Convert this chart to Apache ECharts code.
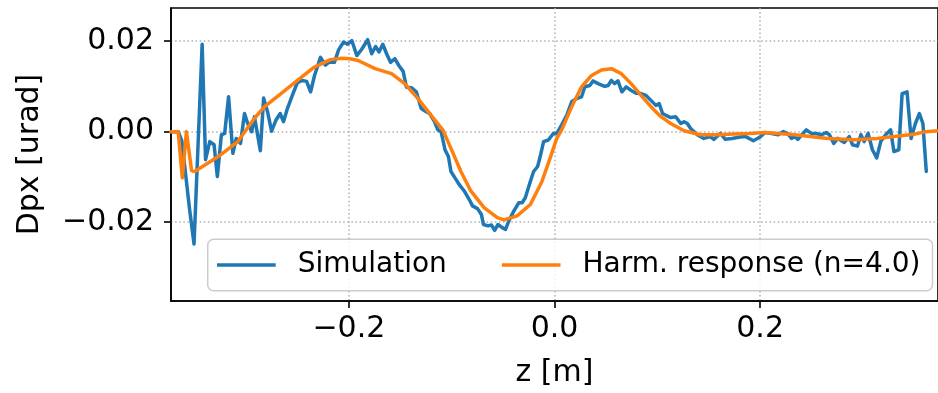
<!DOCTYPE html>
<html>
<head>
<meta charset="utf-8">
<script src="https://cdn.jsdelivr.net/npm/echarts@6/dist/echarts.min.js"></script>
<style>
html,body{margin:0;padding:0;background:#fff;}
#chart{width:938px;height:393px;}
</style>
</head>
<body>
<div id="chart"></div>
<script>
// ---- Data ----
const zSim = [-0.373,-0.3695,-0.366,-0.3625,-0.3585,-0.355,-0.3506,-0.3467,-0.3427,-0.3394,-0.3353,-0.3311,-0.3279,-0.324,-0.3208,-0.317,-0.3128,-0.3095,-0.3054,-0.3015,-0.2984,-0.2945,-0.2919,-0.2893,-0.2861,-0.2829,-0.2791,-0.2752,-0.271,-0.2668,-0.2636,-0.2598,-0.255,-0.2501,-0.2453,-0.2411,-0.2372,-0.2334,-0.2276,-0.2228,-0.2196,-0.2141,-0.2099,-0.2051,-0.2013,-0.1971,-0.1923,-0.1875,-0.1817,-0.1778,-0.174,-0.1707,-0.167,-0.1633,-0.1595,-0.1553,-0.1514,-0.1472,-0.144,-0.1392,-0.1344,-0.1296,-0.1248,-0.1215,-0.1167,-0.1135,-0.1103,-0.1065,-0.1032,-0.1007,-0.0968,-0.0926,-0.0878,-0.0829,-0.0797,-0.0749,-0.0711,-0.0691,-0.0646,-0.0614,-0.0582,-0.055,-0.0508,-0.0476,-0.0444,-0.0395,-0.0347,-0.0315,-0.0284,-0.0235,-0.0203,-0.0164,-0.0139,-0.0106,-0.0058,-0.001,0.0022,0.007,0.0119,0.0167,0.0215,0.0263,0.0295,0.0343,0.0376,0.0424,0.0488,0.0521,0.0553,0.0584,0.0617,0.0656,0.0697,0.0745,0.0794,0.0842,0.089,0.0938,0.0986,0.1018,0.1051,0.1083,0.1131,0.1179,0.1228,0.126,0.1292,0.1324,0.1389,0.1452,0.1517,0.1549,0.1613,0.1662,0.1726,0.1806,0.186,0.1934,0.2,0.2047,0.2112,0.2176,0.2224,0.2272,0.2305,0.2337,0.2368,0.2417,0.2449,0.2498,0.2546,0.2594,0.2642,0.2674,0.2716,0.2754,0.2819,0.2867,0.2899,0.2947,0.298,0.3012,0.305,0.3092,0.3134,0.3173,0.3221,0.3269,0.3301,0.3349,0.3381,0.3429,0.3468,0.351,0.3549,0.3583,0.3616];
const dpxSim = [0,0,0,-0.002,-0.010,-0.017,-0.0248,-0.003,0.0193,-0.0062,-0.0022,-0.0029,-0.0099,-0.0007,-0.0004,0.0077,-0.0048,-0.0015,-0.0026,0.0040,0.0018,0,0.0033,0,-0.0042,0.0074,0.0044,0.0001,0.0025,0.0040,0.0022,0.0051,0.0080,0.0108,0.0113,0.0111,0.0088,0.0124,0.0164,0.0147,0.0153,0.0153,0.0181,0.0198,0.0193,0.0201,0.0168,0.0182,0.0203,0.0172,0.0188,0.0176,0.0193,0.0172,0.0153,0.0161,0.0146,0.0133,0.0098,0.0097,0.0088,0.0051,0.0044,0.0040,0.0022,0.0004,0,-0.0040,-0.0055,-0.0088,-0.0102,-0.0117,-0.0131,-0.0150,-0.0164,-0.0170,-0.0183,-0.0205,-0.0208,-0.0206,-0.0218,-0.0205,-0.0212,-0.0216,-0.0197,-0.0175,-0.0157,-0.0157,-0.0146,-0.0110,-0.0088,-0.0077,-0.0055,-0.0022,-0.0018,-0.0004,-0.0004,0.0015,0.0036,0.0066,0.0073,0.0077,0.0099,0.0102,0.0112,0.0106,0.0100,0.0102,0.0113,0.0106,0.0112,0.0088,0.0099,0.0091,0.0085,0.0084,0.0080,0.0069,0.0058,0.0062,0.0040,0.0036,0.0031,0.0033,0.0018,0.0022,0.0018,0.0007,-0.0007,-0.0015,-0.0011,-0.0017,-0.0004,-0.0017,-0.0015,-0.0012,-0.0011,-0.0020,-0.0012,-0.0002,-0.0004,-0.0007,0,-0.0005,-0.0015,-0.0011,-0.0017,-0.0004,0.0004,-0.0004,-0.0004,-0.0007,-0.0002,-0.0007,-0.0026,-0.0015,-0.0024,-0.0011,-0.0029,-0.0032,-0.0007,-0.0022,-0.0004,-0.0040,-0.0058,-0.0022,-0.0007,0.0004,-0.0044,-0.0040,0.0084,0.0088,-0.0015,0.0018,0.0040,0.0018,-0.0088];

const zHarm = [-0.373,-0.366,-0.362,-0.358,-0.353,-0.350,-0.327,-0.308,-0.292,-0.282,-0.266,-0.250,-0.234,-0.218,-0.207,-0.199,-0.191,-0.1745,-0.1585,-0.1457,-0.1328,-0.120,-0.1087,-0.1007,-0.091,-0.0814,-0.0685,-0.0556,-0.0492,-0.0364,-0.0235,-0.0122,-0.0042,0.0022,0.007,0.0167,0.0263,0.036,0.0456,0.0553,0.065,0.0745,0.0842,0.0938,0.1035,0.113,0.126,0.142,0.158,0.174,0.190,0.2047,0.2337,0.2658,0.2915,0.314,0.330,0.3494,0.3607,0.373];
const dpxHarm = [0,0,-0.0102,0,-0.0086,-0.0088,-0.0055,-0.0022,0.0029,0.0055,0.0084,0.0113,0.0142,0.0159,0.0162,0.0161,0.0157,0.0139,0.0128,0.0106,0.0073,0.0036,0.0004,-0.0037,-0.0088,-0.0131,-0.0168,-0.0190,-0.0195,-0.0186,-0.0161,-0.0110,-0.0058,-0.0015,0.0004,0.0055,0.0099,0.0124,0.0136,0.0139,0.0128,0.0106,0.0080,0.0055,0.0033,0.0018,0.0002,-0.0007,-0.0007,-0.0005,-0.0004,-0.0002,-0.0007,-0.0015,-0.0018,-0.0015,-0.0011,-0.0006,0,0.0002];

const seriesNames = ['Simulation', 'Harm. response (n=4.0)'];
const xTickValues = [-0.2, 0.0, 0.2];
const yTickValues = [-0.02, 0.00, 0.02];
const xRange = [-0.373, 0.373];
const yRange = [-0.0374, 0.0273];

// ---- Chart ----
const FONT = 'DejaVu Sans';
const fmt = (v, d) => (v < -1e-12 ? '\u2212' : '') + Math.abs(v).toFixed(d);
const pairs = (xs, ys) => xs.map((x, i) => [x, ys[i]]);

const chart = echarts.init(document.getElementById('chart'), null, {renderer: 'canvas'});
const gridLine = {show: true, lineStyle: {color: '#b0b0b0', width: 1.5, type: [1.5, 2.6]}};

chart.setOption({
  animation: false,
  backgroundColor: '#ffffff',
  grid: {left: 171, right: -7, top: 8, bottom: 89.7, show: true, borderColor: '#000', borderWidth: 1.6, backgroundColor: 'transparent'},
  legend: {
    data: seriesNames,
    left: 207.7, top: 239.3,
    orient: 'horizontal',
    icon: 'rect',
    itemWidth: 58.7, itemHeight: 3.5,
    itemGap: 55,
    padding: [9.7, 12, 9.7, 9.3],
    backgroundColor: 'rgba(255,255,255,0.8)',
    borderColor: '#cccccc', borderWidth: 1.5, borderRadius: 6,
    textStyle: {fontFamily: FONT, fontSize: 28, color: '#000', lineHeight: 32, padding: [0, 0, 0, 17]}
  },
  xAxis: {
    type: 'value', min: xRange[0], max: xRange[1],
    name: 'z [m]', nameLocation: 'middle', nameGap: 57,
    nameTextStyle: {fontFamily: FONT, fontSize: 30, color: '#000'},
    axisLine: {show: true, onZero: false, lineStyle: {color: '#000', width: 1.6}},
    axisTick: {show: true, inside: false, length: 7, lineStyle: {color: '#000', width: 1.6}, customValues: xTickValues},
    axisLabel: {show: true, margin: 13, fontFamily: FONT, fontSize: 30, color: '#000', customValues: xTickValues, formatter: v => fmt(v, 1)},
    splitLine: gridLine
  },
  yAxis: {
    type: 'value', min: yRange[0], max: yRange[1],
    name: 'Dpx [urad]', nameLocation: 'middle', nameGap: 126, nameRotate: 90,
    nameTextStyle: {fontFamily: FONT, fontSize: 30, color: '#000'},
    axisLine: {show: true, onZero: false, lineStyle: {color: '#000', width: 1.6}},
    axisTick: {show: true, inside: false, length: 7, lineStyle: {color: '#000', width: 1.6}, customValues: yTickValues},
    axisLabel: {show: true, margin: 17, fontFamily: FONT, fontSize: 30, color: '#000', customValues: yTickValues, formatter: v => fmt(v, 2)},
    splitLine: gridLine
  },
  series: [
    {name: seriesNames[0], type: 'line', data: pairs(zSim, dpxSim), showSymbol: false, symbol: 'none', z: 2,
     itemStyle: {color: '#1f77b4'}, lineStyle: {color: '#1f77b4', width: 3.5, join: 'round', cap: 'round'}},
    {name: seriesNames[1], type: 'line', data: pairs(zHarm, dpxHarm), showSymbol: false, symbol: 'none', z: 3,
     itemStyle: {color: '#ff7f0e'}, lineStyle: {color: '#ff7f0e', width: 3.5, join: 'round', cap: 'round'}}
  ]
});
</script>
</body>
</html>
